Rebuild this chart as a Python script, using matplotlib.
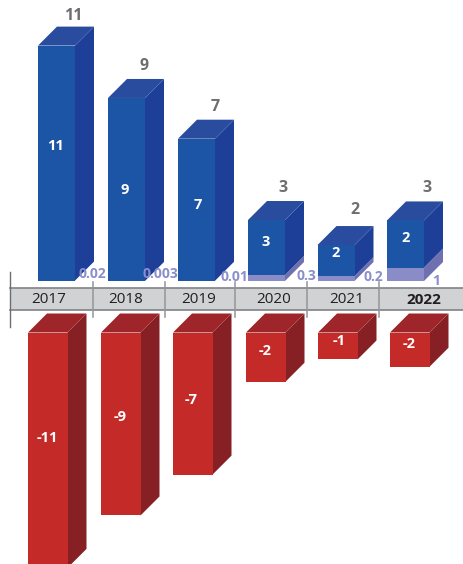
import matplotlib
matplotlib.use('Agg')
import matplotlib.pyplot as plt
from matplotlib.patches import Rectangle

# data
years = ['2017', '2018', '2019', '2020', '2021', '2022']
upper_values = [10.98, 8.55, 6.64, 2.57, 1.45, 2.2]
base_values = [0.02, 0.003, 0.01, 0.28, 0.23, 0.63]
lower_values = [-11.0, -8.55, -6.64, -2.3, -1.26, -1.6]
total_labels = ['11', '9', '7', '3', '2', '3']
upper_labels = ['11', '9', '7', '3', '2', '2']
base_labels = ['0.02', '0.003', '0.01', '0.3', '0.2', '1']
lower_labels = ['-11', '-9', '-7', '-2', '-1', '-2']

W, H = 463, 564
PX_PER_UNIT = 21.4
BLUE_BASE = 281
RED_BASE = 332.5
DEPTH = 19

fig = plt.figure(figsize=(W / 100, H / 100), dpi=100)
ax_top = fig.add_axes([0, 1 - BLUE_BASE / H, 1, BLUE_BASE / H])
ax_bot = fig.add_axes([0, 0, 1, 1 - RED_BASE / H])
ax_top.set_xlim(0, W)
ax_top.set_ylim(0, BLUE_BASE / PX_PER_UNIT)
ax_bot.set_xlim(0, W)
ax_bot.set_ylim(-(H - RED_BASE) / PX_PER_UNIT, 0)
ax_top.axis('off')
ax_bot.axis('off')


def box(ax, x, width, y0, y1, front, side, top=None):
    """one 3d block, y0 lower than y1, in value units"""
    dy = DEPTH / PX_PER_UNIT
    ax.bar(x, y1 - y0, width, bottom=y0, align='edge', color=front,
           linewidth=0, clip_on=True, zorder=3)
    r = x + width
    ax.fill([r, r + DEPTH, r + DEPTH, r], [y0, y0 + dy, y1 + dy, y1], color=side,
            linewidth=0, clip_on=False, zorder=2)
    if top:
        ax.fill([x, x + DEPTH, r + DEPTH, r], [y1, y1 + dy, y1 + dy, y1], color=top,
                linewidth=0, clip_on=False, zorder=2)


blue_x = [38, 108, 178, 248, 317.5, 387]
red_x = [28, 101, 173, 246, 318, 390]

for x, base, upper in zip(blue_x, base_values, upper_values):
    if base > 0.1:
        box(ax_top, x, 37, 0, base, '#8a8cc8', '#6f70b0')
    box(ax_top, x, 37, base, base + upper, '#1c55a5', '#1e3f98', '#2a4c9f')

for x, low in zip(red_x, lower_values):
    box(ax_bot, x, 39.5, low, 0, '#c42a27', '#862024', '#9e2529')

# band and overlay text live on a pixel axes
ov = fig.add_axes([0, 0, 1, 1])
ov.set_xlim(0, W)
ov.set_ylim(H, 0)
ov.axis('off')
ov.patch.set_alpha(0)

ov.add_patch(Rectangle((10, 288), W - 10, 22, facecolor='#d1d2d4', edgecolor='none'))
ov.plot([10, W], [288, 288], color='#808285', lw=1.2)
ov.plot([10, W], [310, 310], color='#808285', lw=1.2)
ov.plot([9.5, 9.5], [272, 327], color='#6d6e71', lw=1)
for sx in [93, 165, 235, 307, 379]:
    ov.plot([sx, sx], [282, 317], color='#939598', lw=1.1)

family = ['Open Sans', 'DejaVu Sans']
year_x = [49, 126, 199, 274, 347, 424]
for i, (xp, y) in enumerate(zip(year_x, years)):
    ov.text(xp, 299.5, y, ha='center', va='center', fontsize=11, color='#231f20',
            family='Open Sans', fontweight='bold' if i == 5 else 'normal')

total_pos = [(73, 16), (144, 66), (215, 107), (283, 188), (355, 210), (427, 188)]
for (xp, yp), s in zip(total_pos, total_labels):
    ov.text(xp, yp, s, ha='center', va='center', fontsize=11.5, fontweight='bold',
            color='#6d6e71', family=family)

upper_pos = [(55, 146), (125, 190), (198, 205), (266, 242), (336, 253), (406, 238)]
for (xp, yp), s in zip(upper_pos, upper_labels):
    ov.text(xp, yp, s, ha='center', va='center', fontsize=10.5, fontweight='bold',
            color='white', family=family)

lower_pos = [(47, 438), (120, 417), (191, 400), (265, 351), (339, 341), (409, 344)]
for (xp, yp), s in zip(lower_pos, lower_labels):
    ov.text(xp, yp, s, ha='center', va='center', fontsize=10.5, fontweight='bold',
            color='white', family=family)

base_pos = [(92.5, 274), (160.5, 274), (234, 277), (306, 276), (373, 277), (436, 281)]
for (xp, yp), s in zip(base_pos, base_labels):
    ov.text(xp, yp, s, ha='center', va='center', fontsize=10, fontweight='bold',
            color='#8a8fcb', family=family)

fig.savefig('out.png', dpi=100)
